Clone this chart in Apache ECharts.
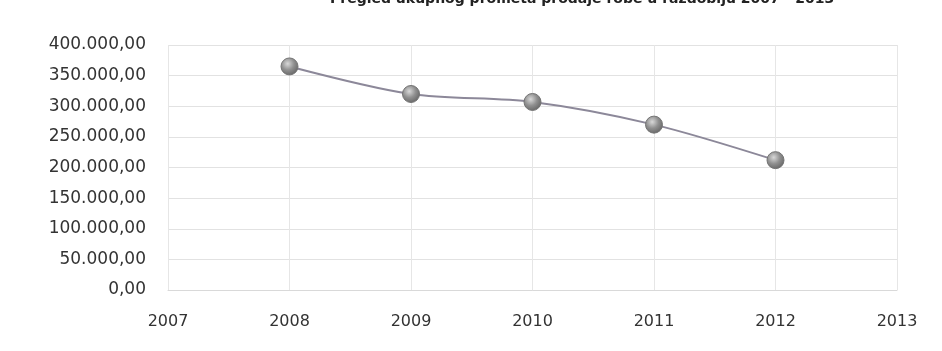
<!DOCTYPE html>
<html>
<head>
<meta charset="utf-8">
<script src="https://cdn.jsdelivr.net/npm/echarts@6/dist/echarts.min.js"></script>
<style>
html, body { margin: 0; padding: 0; background: #fff; }
#chart { width: 942px; height: 351px; }
</style>
</head>
<body>
<div id="chart"></div>
<script>
// podaci očitani sa slike
var years = [2008, 2009, 2010, 2011, 2012];
var values = [365000, 320000, 307000, 270000, 212000];
var yTicks = [0, 50000, 100000, 150000, 200000, 250000, 300000, 350000, 400000];
var xMin = 2007, xMax = 2013;
var titleText = 'Pregled ukupnog prometa prodaje robe u razdoblju 2007 - 2013';

var chart = echarts.init(document.getElementById('chart'));

// format 350.000,00
function fmtNum(v) {
	var s = Math.round(v).toString();
	s = s.replace(/\B(?=(\d{3})+(?!\d))/g, '.');
	return s + ',00';
}

var points = [];
for (var i = 0; i < years.length; i++) {
	points.push([years[i], values[i]]);
}

var option = {
	backgroundColor: '#fff',
	animation: false,
	title: {
		text: titleText,
		left: 325,
		top: -13,
		textStyle: { fontFamily: 'DejaVu Sans', fontSize: 14, fontWeight: 'bold', color: '#222' }
	},
	grid: { left: 168, right: 45, top: 45, bottom: 61 },
	xAxis: {
		type: 'value',
		min: xMin,
		max: xMax,
		interval: 1,
		axisLine: { show: true, lineStyle: { color: '#d9d9d9' } },
		axisTick: { show: false },
		splitLine: { show: true, lineStyle: { color: '#e6e6e6' } },
		axisLabel: {
			margin: 24,
			fontFamily: 'DejaVu Sans',
			fontSize: 16,
			color: '#333',
			formatter: function(v) { return String(v); }
		}
	},
	yAxis: {
		type: 'value',
		min: yTicks[0],
		max: yTicks[yTicks.length - 1],
		interval: 50000,
		axisLine: { show: false },
		axisTick: { show: false },
		splitLine: { lineStyle: { color: '#e2e2e2' } },
		axisLabel: {
			margin: 22,
			fontFamily: 'DejaVu Sans',
			fontSize: 17,
			color: '#333',
			formatter: fmtNum
		}
	},
	series: [{
		type: 'line',
		data: points,
		smooth: 0.3,
		symbol: 'circle',
		symbolSize: 17,
		lineStyle: { color: '#8c8899', width: 2 },
		itemStyle: {
			color: {
				type: 'radial', x: 0.4, y: 0.35, r: 0.7,
				colorStops: [
					{ offset: 0, color: '#d8d8d8' },
					{ offset: 0.5, color: '#909090' },
					{ offset: 1, color: '#626262' }
				]
			},
			borderColor: '#747474',
			borderWidth: 1
		}
	}]
};

chart.setOption(option);
</script>
</body>
</html>
